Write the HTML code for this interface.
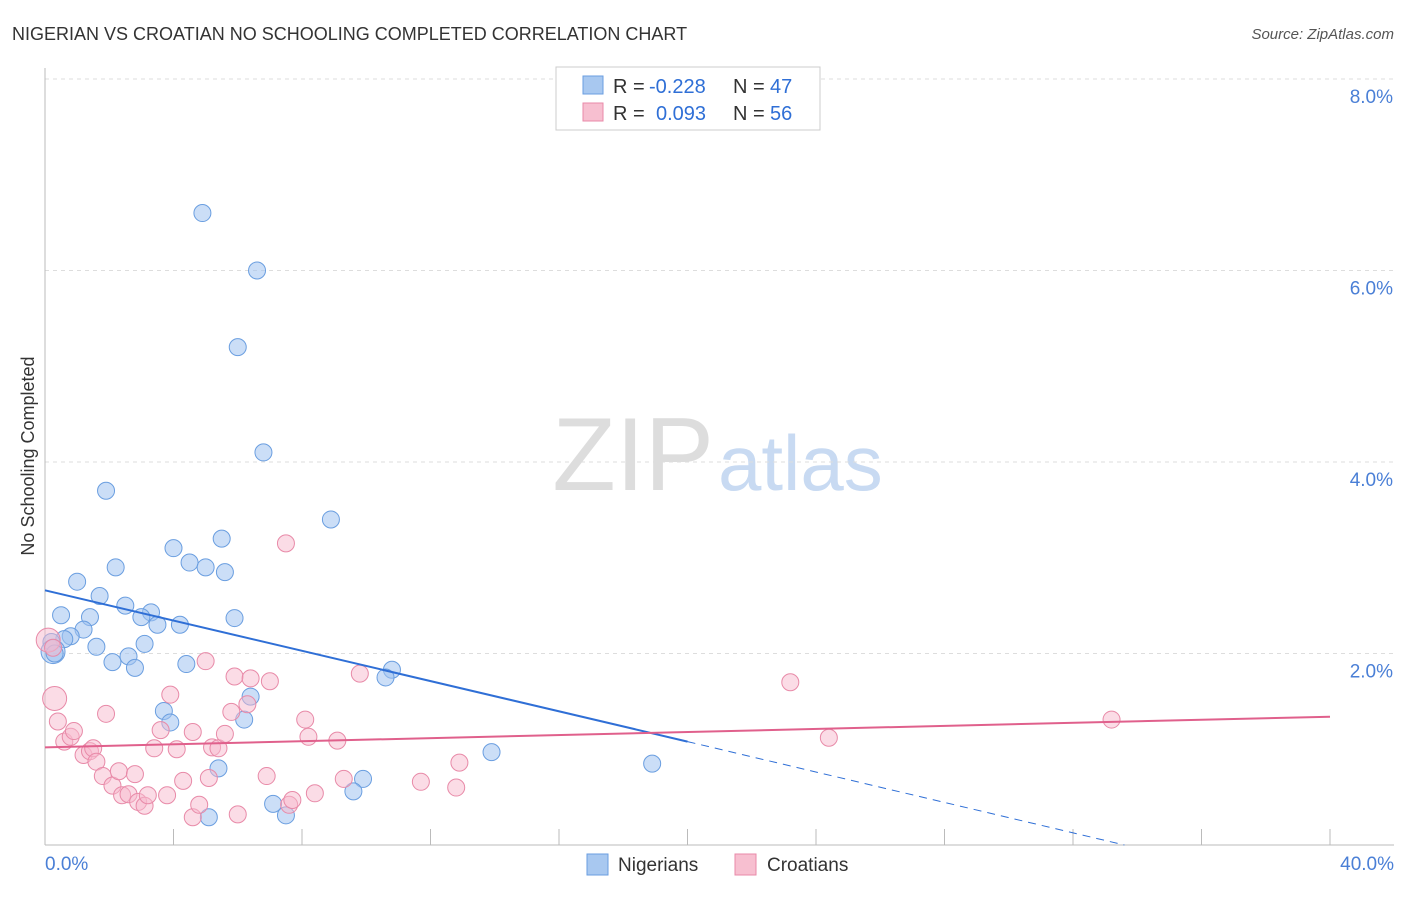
<!DOCTYPE html>
<html><head><meta charset="utf-8"><style>
body{margin:0;background:#fff;font-family:"Liberation Sans",sans-serif}
svg text{font-family:"Liberation Sans",sans-serif}
</style></head><body>
<svg id="c" width="1406" height="892">
<text x="12" y="40" font-size="18" fill="#333">NIGERIAN VS CROATIAN NO SCHOOLING COMPLETED CORRELATION CHART</text>
<text x="1394" y="39" font-size="15" fill="#555" text-anchor="end" font-style="italic">Source: ZipAtlas.com</text>
<text x="714" y="490" font-size="104" fill="#ddd" text-anchor="end" font-family="Liberation Serif">ZIP</text>
<text x="718" y="490" font-size="78" fill="#c8daf2">atlas</text>
<text transform="translate(34,456) rotate(-90)" font-size="18" fill="#333" text-anchor="middle">No Schooling Completed</text>
<g id="grid"></g><g id="marks"></g>
<g>
<rect x="556" y="67" width="264" height="63" fill="#fff" stroke="#ccc"/>
<rect x="583" y="76" width="20" height="18" fill="#a8c8f0" stroke="#6a9ee0"/>
<rect x="583" y="103" width="20" height="18" fill="#f7bfd0" stroke="#e88aa8"/>
<text x="613" y="93" font-size="20" fill="#333">R =</text>
<text x="649" y="93" font-size="20" fill="#2f6fd6">-0.228</text>
<text x="733" y="93" font-size="20" fill="#333">N =</text>
<text x="770" y="93" font-size="20" fill="#2f6fd6">47</text>
<text x="613" y="120" font-size="20" fill="#333">R =</text>
<text x="656" y="120" font-size="20" fill="#2f6fd6">0.093</text>
<text x="733" y="120" font-size="20" fill="#333">N =</text>
<text x="770" y="120" font-size="20" fill="#2f6fd6">56</text>
</g>
<g>
<rect x="587" y="854" width="21" height="21" fill="#a8c8f0" stroke="#6a9ee0"/>
<text x="618" y="871" font-size="19" fill="#333">Nigerians</text>
<rect x="735" y="854" width="21" height="21" fill="#f7bfd0" stroke="#e88aa8"/>
<text x="767" y="871" font-size="19" fill="#333">Croatians</text>
</g>
</svg>
<script>
const yTicks=[2,4,6,8];
const xTickLabels=["0.0%","40.0%"];
const nigX=[4.9,6.6,6.0,6.8,1.9,8.9,4.0,5.5,2.2,4.5,5.0,5.6,1.0,1.7,2.5,3.3,3.0,3.5,4.2,5.9,0.5,1.4,1.2,0.8,0.6,0.2,0.25,0.3,1.6,3.1,2.6,2.1,2.8,4.4,10.8,10.6,6.4,3.7,3.9,6.2,13.9,18.9,5.4,9.9,9.6,7.1,7.5,5.1];
const nigY=[6.6,6.0,5.2,4.1,3.7,3.4,3.1,3.2,2.9,2.95,2.9,2.85,2.75,2.6,2.5,2.43,2.38,2.3,2.3,2.37,2.4,2.38,2.25,2.18,2.15,2.12,2.02,2.0,2.07,2.1,1.97,1.91,1.85,1.89,1.83,1.75,1.55,1.4,1.28,1.31,0.97,0.85,0.8,0.69,0.56,0.43,0.31,0.29];
const croX=[0.1,0.25,0.3,0.4,0.6,0.8,0.9,1.2,1.4,1.5,1.6,1.8,1.9,2.1,2.3,2.4,2.6,2.8,2.9,3.1,3.2,3.4,3.6,3.8,3.9,4.1,4.3,4.6,4.6,4.8,5.0,5.1,5.2,5.4,5.6,5.8,5.9,6.0,6.3,6.4,6.9,7.0,7.5,7.6,7.7,8.1,8.2,8.4,9.1,9.3,9.8,11.7,12.8,12.9,23.2,24.4,33.2];
const croY=[2.14,2.06,1.53,1.29,1.08,1.13,1.19,0.94,0.98,1.01,0.87,0.72,1.37,0.62,0.77,0.52,0.53,0.74,0.45,0.41,0.52,1.01,1.2,0.52,1.57,1.0,0.67,1.18,0.29,0.42,1.92,0.7,1.02,1.01,1.16,1.39,1.76,0.32,1.47,1.74,0.72,1.71,3.15,0.42,0.47,1.31,1.13,0.54,1.09,0.69,1.79,0.66,0.6,0.86,1.7,1.12,1.31];
const bigCro=[0,2];const bigNig=[26];
const X=v=>45+v/40*1285, Y=v=>845-v*95.75;
const NS="http://www.w3.org/2000/svg";
function mk(t,a,p){const e=document.createElementNS(NS,t);for(const k in a)e.setAttribute(k,a[k]);p.appendChild(e);return e;}
const g=document.getElementById('grid'), m=document.getElementById('marks');
yTicks.forEach(t=>{const l=mk('line',{x1:45,x2:1394,y1:Y(t),y2:Y(t),stroke:'#ddd','stroke-dasharray':'4,4'},g);


const tx=mk('text',{x:1393,y:Y(t)+24,'font-size':19,fill:'#4a7fd6','text-anchor':'end'},g);tx.textContent=t.toFixed(1)+'%';

});
mk('line',{x1:45,x2:45,y1:68,y2:845,stroke:'#bbb'},g);
mk('line',{x1:45,x2:1394,y1:845,y2:845,stroke:'#bbb'},g);
for(let i=0;i<=10;i++){const t=mk('line',{x1:X(i*4),x2:X(i*4),y1:829,y2:845,stroke:'#bbb'},g);

}
[[0,'start',45],[40,'end',1394]].forEach((d,i)=>{const t=mk('text',{x:d[2],y:870,'font-size':19,fill:'#4a7fd6','text-anchor':d[1]},g);t.textContent=xTickLabels[i];

});
nigX.forEach((v,i)=>{const c=mk('circle',{cx:X(v),cy:Y(nigY[i]),r:bigNig.includes(i)?12:8.5,fill:'rgba(160,195,240,0.55)',stroke:'#6a9ee0','stroke-width':1},m);

});
croX.forEach((v,i)=>{const c=mk('circle',{cx:X(v),cy:Y(croY[i]),r:bigCro.includes(i)?12:8.5,fill:'rgba(247,185,205,0.5)',stroke:'#e88aa8','stroke-width':1},m);

});
const bl=mk('line',{x1:X(0),y1:Y(2.66),x2:X(20),y2:Y(1.08),stroke:'#2f6fd6','stroke-width':2},m);


const bd=mk('line',{x1:X(20),y1:Y(1.08),x2:X(33.6),y2:Y(0),stroke:'#2f6fd6','stroke-width':1,'stroke-dasharray':'8,6'},m);


const pl=mk('line',{x1:X(0),y1:Y(1.02),x2:X(40),y2:Y(1.34),stroke:'#e0608c','stroke-width':2},m);


</script>
</body></html>
